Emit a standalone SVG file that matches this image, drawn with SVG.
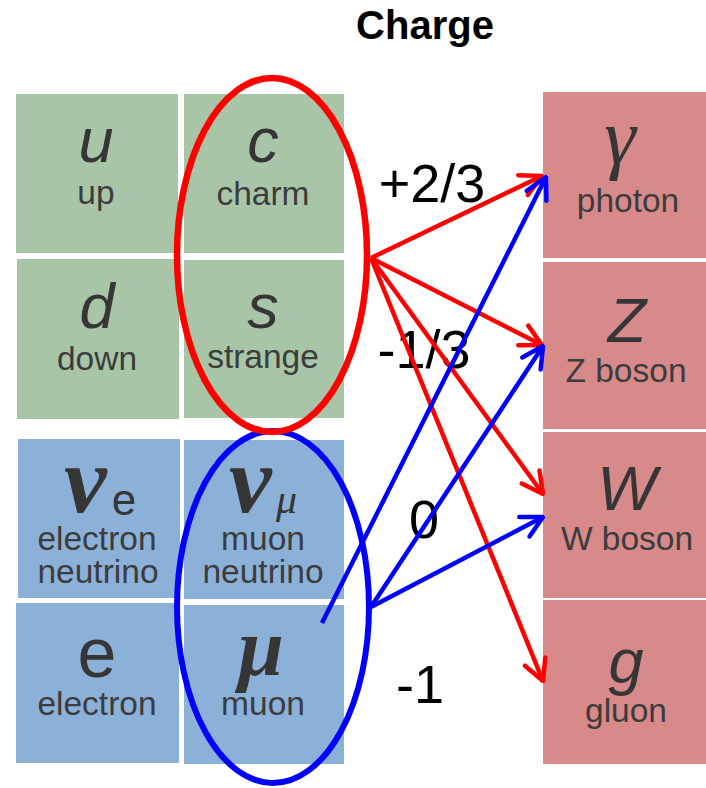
<svg xmlns="http://www.w3.org/2000/svg" width="706" height="788" viewBox="0 0 706 788">
<style>
.g{fill:#a8c6a7}
.b{fill:#8cb1d9}
.r{fill:#d88a8b}
.sym{font-family:"Liberation Sans",Arial,sans-serif;font-style:italic;font-size:63px;fill:#363636;text-anchor:middle}
.ser{font-family:"Liberation Serif","Times New Roman",serif;font-style:italic;fill:#363636}
.lab{font-family:"Liberation Sans",Arial,sans-serif;font-size:33.5px;fill:#3c3c3c;text-anchor:middle}
.chg{font-family:"Liberation Sans",Arial,sans-serif;font-size:54px;fill:#000;text-anchor:middle}
.ra{stroke:#ff0000;stroke-width:4.5;fill:none}
.ba{stroke:#0000ff;stroke-width:4.5;fill:none}
</style>
<defs>
<marker id="mr" viewBox="-26 -15 28 30" refX="0" refY="0" markerWidth="28" markerHeight="30" markerUnits="userSpaceOnUse" orient="auto">
<path d="M-21,-11 L0,0 L-21,11" fill="none" stroke="#ff0000" stroke-width="4.5" stroke-linecap="round" stroke-linejoin="round"/>
</marker>
<marker id="mb" viewBox="-26 -15 28 30" refX="0" refY="0" markerWidth="28" markerHeight="30" markerUnits="userSpaceOnUse" orient="auto">
<path d="M-21,-11 L0,0 L-21,11" fill="none" stroke="#0000ff" stroke-width="4.5" stroke-linecap="round" stroke-linejoin="round"/>
</marker>
</defs>
<rect width="706" height="788" fill="#fff"/>
<text x="425" y="39" font-family="Liberation Sans,Arial,sans-serif" font-weight="bold" font-size="40" text-anchor="middle" fill="#000">Charge</text>

<g id="up"><rect class="g" x="16" y="94" width="162" height="159"/><text class="sym" x="96" y="162">u</text><text class="lab" x="96" y="204">up</text></g>
<g id="charm"><rect class="g" x="184" y="94" width="160" height="159"/><text class="sym" x="263" y="162">c</text><text class="lab" x="263" y="205">charm</text></g>
<g id="down"><rect class="g" x="17" y="259" width="162" height="160"/><text class="sym" x="97" y="328">d</text><text class="lab" x="97" y="370">down</text></g>
<g id="strange"><rect class="g" x="184" y="260" width="160" height="158"/><text class="sym" x="263" y="328">s</text><text class="lab" x="263" y="368">strange</text></g>

<g id="electron-neutrino"><rect class="b" x="18" y="439" width="162" height="159"/><text class="ser" x="64" y="512" font-size="96" font-weight="bold">ν</text><text x="124" y="515" font-family="Liberation Sans,Arial,sans-serif" font-size="44" fill="#363636" text-anchor="middle">e</text><text class="lab" x="97" y="550">electron</text><text class="lab" x="98" y="583">neutrino</text></g>
<g id="muon-neutrino"><rect class="b" x="184" y="440" width="160" height="159"/><text class="ser" x="229" y="512" font-size="96" font-weight="bold">ν</text><text class="ser" x="276" y="513" font-size="42">μ</text><text class="lab" x="263" y="550">muon</text><text class="lab" x="263" y="583">neutrino</text></g>
<g id="electron"><rect class="b" x="16" y="603" width="163" height="160"/><text x="97" y="677" font-family="Liberation Sans,Arial,sans-serif" font-size="70" fill="#363636" text-anchor="middle">e</text><text class="lab" x="97" y="715">electron</text></g>
<g id="muon"><rect class="b" x="184" y="605" width="160" height="159"/><text class="ser" x="261" y="675" font-size="82" font-weight="bold" text-anchor="middle">μ</text><text class="lab" x="263" y="715">muon</text></g>

<g id="photon"><rect class="r" x="543" y="92" width="170" height="166"/><text class="ser" x="620" y="164" font-size="80" text-anchor="middle">γ</text><text class="lab" x="628" y="212">photon</text></g>
<g id="zboson"><rect class="r" x="543" y="262" width="170" height="167"/><text class="sym" x="627" y="342" font-size="66">Z</text><text class="lab" x="626" y="382">Z boson</text></g>
<g id="wboson"><rect class="r" x="543" y="432" width="170" height="166"/><text class="sym" x="627" y="510" font-size="66">W</text><text class="lab" x="627" y="550">W boson</text></g>
<g id="gluon"><rect class="r" x="543" y="600" width="170" height="164"/><text class="sym" x="626" y="683">g</text><text class="lab" x="626" y="722">gluon</text></g>

<g id="labels">
<text class="chg" x="432" y="202">+2/3</text>
<text class="chg" x="424" y="368">-1/3</text>
<text class="chg" x="424" y="538">0</text>
<text class="chg" x="420" y="703">-1</text>
</g>

<g id="groups">
<ellipse cx="273" cy="607" rx="96" ry="176" fill="none" stroke="#0000ff" stroke-width="6"/>
<ellipse cx="272" cy="255" rx="95" ry="177" fill="none" stroke="#ff0000" stroke-width="6.5"/>
</g>

<g id="connectors">
<line class="ra" x1="371" y1="258" x2="542" y2="176" marker-end="url(#mr)"/>
<line class="ra" x1="371" y1="258" x2="542" y2="345" marker-end="url(#mr)"/>
<line class="ra" x1="371" y1="258" x2="543" y2="494" marker-end="url(#mr)"/>
<line class="ra" x1="371" y1="258" x2="543" y2="681" marker-end="url(#mr)"/>
<line class="ba" x1="322" y1="623" x2="546" y2="177" marker-end="url(#mb)"/>
<line class="ba" x1="371" y1="607" x2="543" y2="346" marker-end="url(#mb)"/>
<line class="ba" x1="371" y1="607" x2="543" y2="517" marker-end="url(#mb)"/>
</g>
</svg>
